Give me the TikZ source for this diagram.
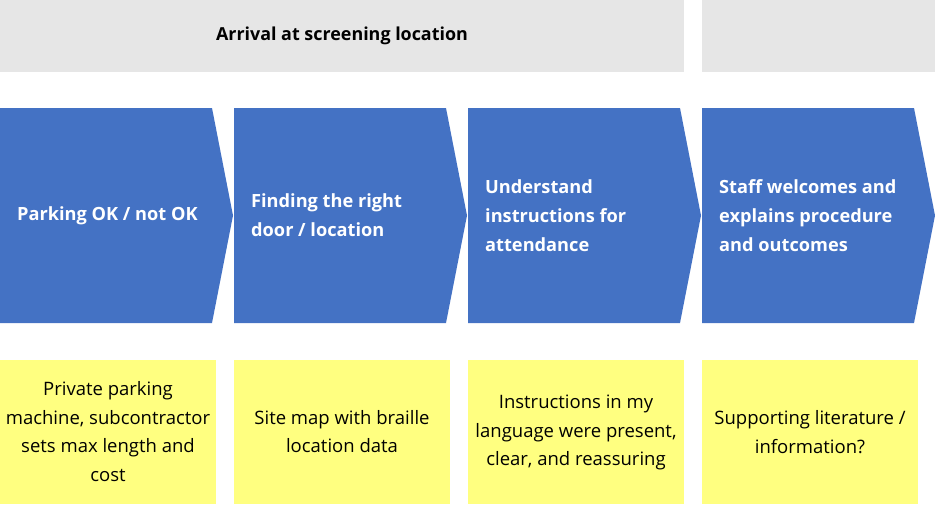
\documentclass[tikz,border=0pt]{standalone}
\usepackage{fontspec}
\setmainfont{Open Sans}
\definecolor{headgray}{HTML}{E6E6E6}
\definecolor{stepblue}{HTML}{4472C4}
\definecolor{noteyellow}{HTML}{FFFF80}
\begin{document}
\begin{tikzpicture}[x=1pt,y=-1pt,
  headbox/.style={fill=headgray},
  chevbox/.style={fill=stepblue},
  notebox/.style={fill=noteyellow},
  headtext/.style={font=\bfseries\fontsize{17.9}{22}\selectfont, text=black},
  chevtext/.style={anchor=west, align=left, inner sep=0pt, text=white,
    font=\bfseries\fontsize{18.2}{29}\selectfont},
  notetext/.style={align=center, inner sep=0pt, text=black,
    font=\fontsize{18.5}{28.5}\selectfont}]
\useasboundingbox (0,0) rectangle (935,506);

% header bands
\fill[headbox] (0,0) rectangle (684,72);
\fill[headbox] (702,0) rectangle (935,72);
\node[headtext] (head) at (342,35.5) {Arrival at screening location};

% process chevrons
\foreach \x in {0,234,468,702} {
  \fill[chevbox] (\x,108) -- (\x+212,108) -- (\x+233,215.5) -- (\x+212,323) -- (\x,323) -- cycle;
}
\node[chevtext] (c1) at (17,215.5) {Parking OK / not OK};
\node[chevtext] (c2) at (251,215.5) {Finding the right\\door / location};
\node[chevtext] (c3) at (485,215.5) {Understand\\instructions for\\attendance};
\node[chevtext] (c4) at (719,215.5) {Staff welcomes and\\explains procedure\\and outcomes};

% notes
\foreach \x in {0,234,468,702} {
  \fill[notebox] (\x,360) rectangle (\x+216,504);
}
\node[notetext] (n1) at (108,431.5) {Private parking\\machine, subcontractor\\sets max length and\\cost};
\node[notetext] (n2) at (342,431.5) {Site map with braille\\location data};
\node[notetext] (n3) at (576,432.5) {Instructions in my\\language were present,\\clear, and reassuring};
\node[notetext] (n4) at (810,432) {Supporting literature /\\information?};
\end{tikzpicture}
\end{document}
